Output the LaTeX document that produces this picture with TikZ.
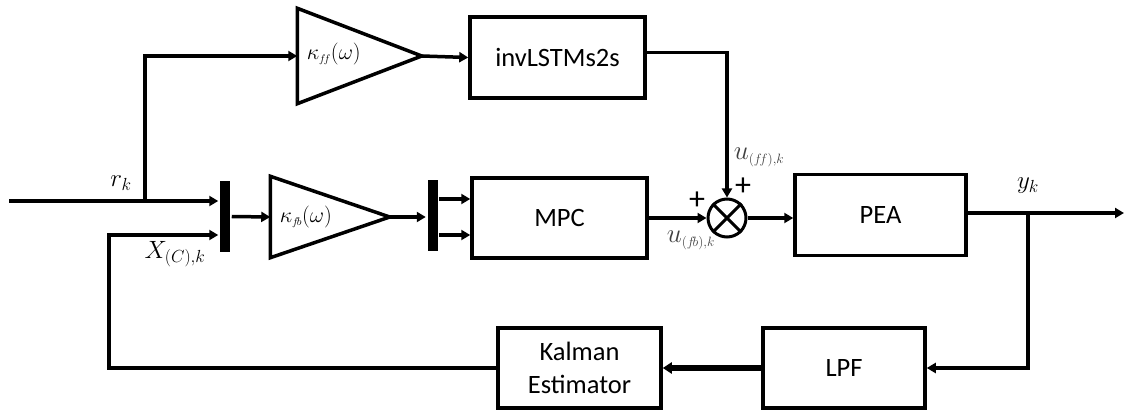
\documentclass[tikz,border=0pt]{standalone}
\usepackage{fix-cm}
\usepackage{fontspec}
\setmainfont{Carlito}
\usetikzlibrary{arrows.meta}
\begin{document}
\begin{tikzpicture}[x=1pt,y=-1pt,line width=3.5pt,
  arr/.style={-{Triangle[length=9pt,width=10pt]}},
  blk/.style={draw,rectangle,inner sep=0pt,align=center,font=\fontsize{26.5}{33}\selectfont},
  tribox/.style={rectangle,inner sep=0pt},
  mux/.style={rectangle,fill=black,inner sep=0pt,minimum width=10pt,minimum height=71pt},
  gain/.style={inner sep=0pt,anchor=west,font=\fontsize{22}{26}\selectfont},
  mlab/.style={inner sep=0pt,font=\fontsize{25}{30}\selectfont},
  ulab/.style={inner sep=0pt,text=black!75,font=\fontsize{27}{32}\selectfont},
  plus/.style={inner sep=0pt,font=\fontsize{32}{36}\selectfont}]
\useasboundingbox (0,0) rectangle (1124,411);

% blocks
\node[blk,minimum width=175pt,minimum height=81pt] (inv) at (557.5,57.5) {invLSTMs2s};
\node[blk,minimum width=175pt,minimum height=80pt] (mpc) at (559.5,218) {MPC};
\node[blk,minimum width=171pt,minimum height=81pt] (pea) at (880.5,215) {PEA};
\node[blk,minimum width=162pt,minimum height=80pt] (lpf) at (844,368) {LPF};
\node[blk,minimum width=163pt,minimum height=80pt] (kal) at (579.5,368) {Kalman\\Estimator};

% triangles (gains)
\node[tribox,minimum width=121pt,minimum height=92pt] (kff) at (359.5,56) {};
\draw (kff.north west) -- (kff.south west) -- (kff.east) -- cycle;
\node[gain] (kffl) at (305,54) {$\kappa_{\scriptscriptstyle f\!f}(\omega)$};
\node[tribox,minimum width=116pt,minimum height=78pt] (kfb) at (330,217) {};
\draw (kfb.north west) -- (kfb.south west) -- (kfb.east) -- cycle;
\node[gain] (kfbl) at (278,217) {$\kappa_{\scriptscriptstyle f\!b}(\omega)$};

% mux bars
\node[mux] (mux1) at (225,216.5) {};
\node[mux] (mux2) at (432.5,215.5) {};

% summing junction
\node[draw,circle,line width=3pt,minimum size=38pt,inner sep=0pt] (sum) at (727,218) {};
\draw[line width=3pt] (sum.north west) -- (sum.south east) (sum.north east) -- (sum.south west);

% coordinates
\coordinate (in) at (9,201);
\coordinate (br) at (145,201);
\coordinate (out) at (1124,213);
\coordinate (yb) at (1028,213);
\coordinate (fbc) at (109,235);

% connectors
\draw[arr] (in) -- (in -| mux1.west);
\draw[arr] (br) |- (kff.west);
\draw[arr] (kff.east) -- (inv.west);
\draw[arr] ([yshift=5pt]inv.east) -| (sum.north);
\draw[arr] (mux1.east) -- (kfb.west);
\draw[arr] (kfb.east) -- (kfb.east -| mux2.west);
\draw[arr] ([yshift=16.5pt]mux2.east) -- ([yshift=16.5pt]mux2.east -| mpc.west);
\draw[arr] ([yshift=-19.5pt]mux2.east) -- ([yshift=-19.5pt]mux2.east -| mpc.west);
\draw[arr] (mpc.east) -- (sum.west);
\draw[arr] (sum.east) -- (sum.east -| pea.west);
\draw[arr] (pea.east |- out) -- (out);
\draw[arr] (yb) |- (lpf.east);
\draw[arr,line width=5pt,-{Triangle[length=9pt,width=11pt]}] (lpf.west) -- (kal.east);
\draw[arr] (kal.west) -| (fbc) -- (fbc -| mux1.west);

% labels
\node[mlab] (rk) at (121,183) {$r_k$};
\node[mlab] (xc) at (175,254) {$X_{(C),k}$};
\node[mlab] (yk) at (1028,186) {$y_k$};
\node[ulab,anchor=west] (uff) at (732,157) {$u_{\scriptscriptstyle (f\!f),k}$};
\node[ulab,anchor=west] (ufb) at (665,240) {$u_{\scriptscriptstyle (f\!b),k}$};
\node[plus] (p1) at (743,187) {+};
\node[plus] (p2) at (697,201) {+};
\end{tikzpicture}
\end{document}
